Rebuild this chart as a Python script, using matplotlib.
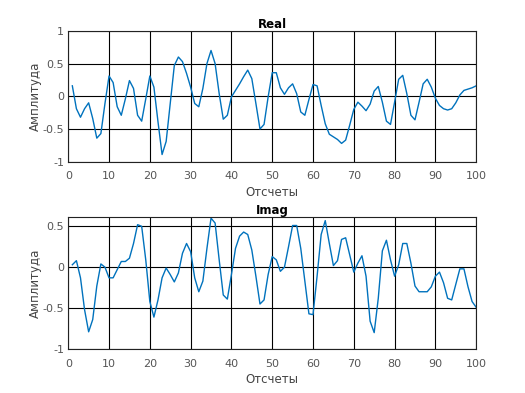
import numpy as np
import matplotlib.pyplot as plt

n = np.arange(1, 101)

real = [0.16, -0.19, -0.32, -0.19, -0.10, -0.34, -0.64, -0.57, -0.11, 0.31,
        0.21, -0.16, -0.29, -0.04, 0.24, 0.12, -0.29, -0.38, -0.04, 0.31,
        0.14, -0.39, -0.89, -0.69, -0.11, 0.47, 0.60, 0.53, 0.35, 0.14,
        -0.11, -0.16, 0.12, 0.50, 0.70, 0.50, 0.04, -0.35, -0.29, -0.01,
        0.09, 0.19, 0.30, 0.40, 0.27, -0.11, -0.50, -0.43, -0.01, 0.36,
        0.36, 0.13, 0.03, 0.13, 0.19, 0.04, -0.24, -0.29, -0.05, 0.18,
        0.16, -0.14, -0.42, -0.58, -0.62, -0.66, -0.72, -0.67, -0.44, -0.20,
        -0.09, -0.15, -0.22, -0.12, 0.08, 0.15, -0.09, -0.38, -0.43, -0.09,
        0.26, 0.32, 0.04, -0.29, -0.36, -0.09, 0.19, 0.26, 0.14, -0.03,
        -0.14, -0.19, -0.21, -0.19, -0.10, 0.02, 0.09, 0.11, 0.13, 0.16]

imag = [0.03, 0.08, -0.13, -0.52, -0.79, -0.64, -0.23, 0.04, 0.00, -0.13,
        -0.13, -0.03, 0.07, 0.07, 0.11, 0.29, 0.52, 0.50, 0.09, -0.42,
        -0.61, -0.40, -0.13, -0.01, -0.09, -0.18, -0.07, 0.17, 0.29, 0.19,
        -0.13, -0.30, -0.17, 0.23, 0.60, 0.54, 0.09, -0.34, -0.39, -0.09,
        0.23, 0.38, 0.43, 0.40, 0.21, -0.11, -0.45, -0.40, -0.09, 0.13,
        0.09, -0.05, 0.00, 0.25, 0.51, 0.51, 0.23, -0.17, -0.57, -0.58,
        -0.11, 0.40, 0.57, 0.29, 0.02, 0.08, 0.34, 0.36, 0.15, -0.06,
        0.05, 0.14, -0.11, -0.66, -0.80, -0.38, 0.20, 0.33, 0.09, -0.11,
        0.03, 0.29, 0.29, 0.05, -0.23, -0.30, -0.30, -0.30, -0.24, -0.11,
        -0.06, -0.19, -0.38, -0.40, -0.21, -0.02, -0.02, -0.24, -0.42, -0.49]

fig = plt.figure(figsize=(5.25, 3.93), dpi=100)
ax1 = fig.add_axes([0.130, 0.5885, 0.777, 0.333])
ax2 = fig.add_axes([0.130, 0.112, 0.777, 0.335])

for ax, y, title, ylim, yt in [(ax1, real, 'Real', (-1, 1), [-1, -0.5, 0, 0.5, 1]),
                               (ax2, imag, 'Imag', (-1, 0.61), [-1, -0.5, 0, 0.5])]:
    ax.plot(n, y, color='#0072BD', lw=1)
    ax.set_xlim(0, 100)
    ax.set_ylim(*ylim)
    ax.set_xticks(np.arange(0, 101, 10))
    ax.set_yticks(yt)
    ax.set_yticklabels([('%g' % v) for v in yt])
    ax.grid(True, color='black', lw=0.8)
    ax.tick_params(length=0, labelsize=8, colors='#555555')
    ax.tick_params(axis='x', pad=7)
    ax.tick_params(axis='y', pad=3)
    for s in ax.spines.values():
        s.set_color('#222222')
        s.set_linewidth(0.8)
    ax.set_title(title, fontsize=8.5, fontweight='bold', pad=2)
    ax.set_xlabel('Отсчеты', fontsize=8.5, color='#444444', labelpad=3)
    ax.set_ylabel('Амплитуда', fontsize=8.5, color='#444444', labelpad=0.5)

fig.savefig('out.png', dpi=100)
